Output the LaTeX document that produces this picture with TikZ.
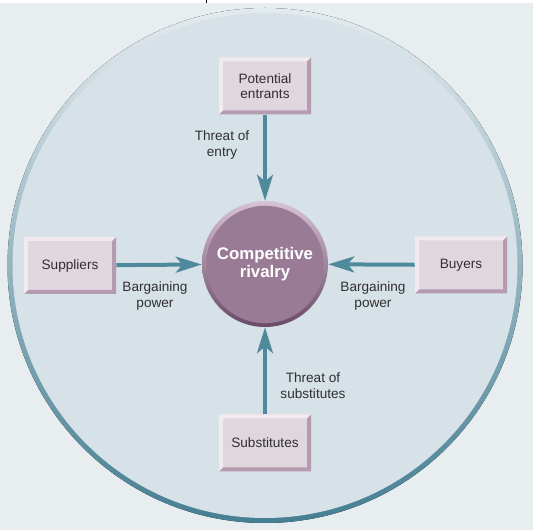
\documentclass[tikz,border=0pt]{standalone}
\usepackage{fontspec}
\setmainfont{Liberation Sans}
\usetikzlibrary{arrows.meta}
\definecolor{bgout}{HTML}{E8EDF0}
\definecolor{bgin}{HTML}{D7E1E8}
\definecolor{ringtop}{HTML}{E4EBEE}
\definecolor{ringmid}{HTML}{7BA2B3}
\definecolor{ringbot}{HTML}{457F93}
\definecolor{arrowc}{HTML}{4F8A9C}
\definecolor{boxfill}{HTML}{E0D6DE}
\definecolor{boxlight}{HTML}{F1EBF0}
\definecolor{boxdark}{HTML}{B49BB0}
\definecolor{txt}{HTML}{303030}
\definecolor{rivtop}{HTML}{D6C3D3}
\definecolor{rivbot}{HTML}{6A4A67}
\definecolor{rivfill}{HTML}{9A7B96}
\begin{document}
\begin{tikzpicture}[x=0.75pt,y=-0.75pt,
  forcebox/.style={rectangle, minimum width=69pt, minimum height=42.75pt,
    inner sep=0pt, fill=boxfill, text=txt, align=center,
    font=\fontsize{10.2}{11.25}\selectfont,
    path picture={
      \fill[boxdark] (path picture bounding box.south west)
        -- (path picture bounding box.south east)
        -- (path picture bounding box.north east)
        -- ([shift={(-3pt,-3pt)}]path picture bounding box.north east)
        -- ([shift={(-3pt,3pt)}]path picture bounding box.south east)
        -- ([shift={(3pt,3pt)}]path picture bounding box.south west) -- cycle;
      \fill[boxlight] (path picture bounding box.south west)
        -- (path picture bounding box.north west)
        -- (path picture bounding box.north east)
        -- ([shift={(-3pt,-3pt)}]path picture bounding box.north east)
        -- ([shift={(3pt,-3pt)}]path picture bounding box.north west)
        -- ([shift={(3pt,3pt)}]path picture bounding box.south west) -- cycle;
    }},
  flabel/.style={text=txt, align=center, inner sep=0pt,
    font=\fontsize{10.2}{12}\selectfont},
  force/.style={draw=arrowc, line width=3pt,
    -{Stealth[length=19.5pt,width=12pt,inset=5pt,fill=arrowc]}}
]
\useasboundingbox (0,0) rectangle (533,530);
\fill[bgout] (0,0) rectangle (533,530);
\fill[white] (0,0) rectangle (533,3);
\draw[black, line width=0.75pt] (206,0) -- (206,3);

% outer ring
\fill[top color=ringtop, middle color=ringmid, bottom color=ringbot]
  (265,265.5) circle (257.5);
\fill[bgin] (265,265.5) circle (252.5);

% central circle
\node[circle, minimum size=94.5pt, inner sep=0pt,
  top color=rivtop, bottom color=rivbot] (cr) at (265,264) {};
\node[circle, minimum size=88pt, inner sep=0pt, fill=rivfill, text=white,
  align=center, font=\bfseries\fontsize{12.6}{13.5}\selectfont]
  (crin) at (265,264.5) {Competitive\\rivalry};

% boxes
\node[forcebox] (pe) at (265,86) {Potential\\entrants};
\node[forcebox] (su) at (70,265.5) {Suppliers};
\node[forcebox] (bu) at (461,265) {Buyers};
\node[forcebox] (sb) at (265,443) {Substitutes};

% arrows
\draw[force] (pe) -- (cr);
\draw[force] (su) -- (cr);
\draw[force] (bu) -- (cr);
\draw[force] (sb) -- (cr);

% labels
\node[flabel] (l1) at (222,145) {Threat of\\entry};
\node[flabel] (l2) at (155,296) {Bargaining\\power};
\node[flabel] (l3) at (373,296) {Bargaining\\power};
\node[flabel] (l4) at (313,386) {Threat of\\substitutes};
\end{tikzpicture}
\end{document}
